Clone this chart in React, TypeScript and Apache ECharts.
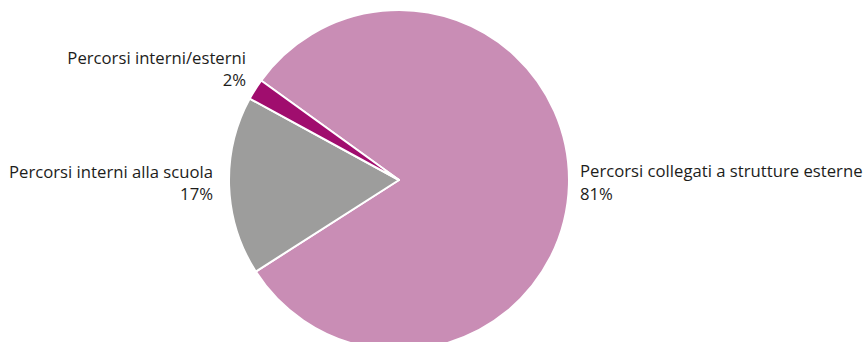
import React, { useEffect, useRef } from "react";
import * as echarts from "echarts";

const categories = [
  "Percorsi collegati a strutture esterne",
  "Percorsi interni alla scuola",
  "Percorsi interni/esterni",
];
const values = [81, 17, 2];
const colors = ["#C98DB5", "#9D9D9C", "#A00D6E"];

export default function App() {
  const ref = useRef<HTMLDivElement>(null);
  useEffect(() => {
    document.body.style.margin = "0";
    const chart = echarts.init(ref.current!, null, { renderer: "svg" });
    const labelPos = [
      { x: 580, y: 182, align: "left" },
      { x: 213, y: 182.5, align: "right" },
      { x: 246, y: 68.5, align: "right" },
    ];
    chart.setOption({
      animation: false,
      series: [
        {
          type: "pie",
          center: [399, 180],
          radius: 170,
          startAngle: 144.2,
          clockwise: true,
          avoidLabelOverlap: false,
          data: categories.map((name, i) => ({
            name,
            value: values[i],
            itemStyle: { color: colors[i] },
          })),
          itemStyle: { borderColor: "#ffffff", borderWidth: 2 },
          label: {
            show: true,
            position: "outside",
            formatter: (p: any) => `${p.name}\n${p.value}%`,
            fontFamily: "Open Sans",
            fontSize: 16.7,
            lineHeight: 22.5,
            color: "#1d1d1b",
          },
          labelLine: { show: false },
          labelLayout: (params: any) => {
            const p = labelPos[params.dataIndex];
            return { x: p.x, y: p.y, align: p.align, verticalAlign: "middle" };
          },
          emphasis: { disabled: true },
        },
      ],
    });
    return () => chart.dispose();
  }, []);
  return <div ref={ref} style={{ width: 866, height: 342 }} />;
}
